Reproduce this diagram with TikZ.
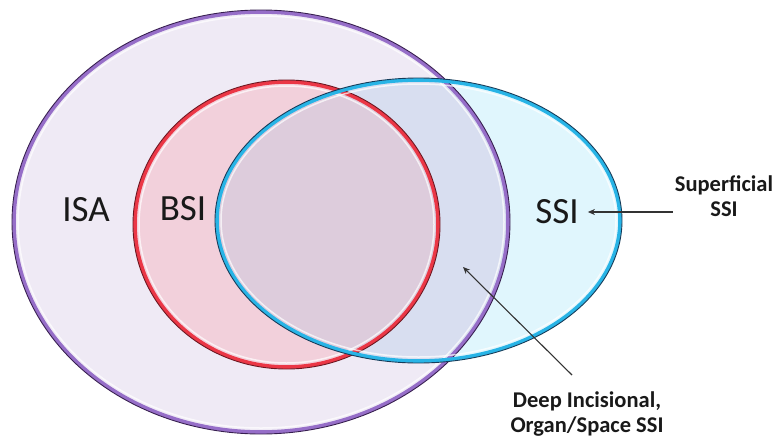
\documentclass[tikz,border=0pt]{standalone}
\usepackage{fontspec}
\setmainfont{Carlito}
\usetikzlibrary{arrows.meta}
\definecolor{cPur}{RGB}{239,234,245}
\definecolor{cBlue}{RGB}{224,246,253}
\definecolor{cBP}{RGB}{216,222,240}
\definecolor{cRed}{RGB}{242,208,219}
\definecolor{cRB}{RGB}{221,204,220}
\definecolor{bPur}{RGB}{150,110,200}
\definecolor{dPur}{RGB}{55,30,80}
\definecolor{bRed}{RGB}{235,55,70}
\definecolor{dRed}{RGB}{110,20,30}
\definecolor{bBlu}{RGB}{40,180,230}
\definecolor{dBlu}{RGB}{20,60,90}
\begin{document}
\begin{tikzpicture}[x=1pt,y=-1pt,
  lab/.style={font=\fontsize{37}{40}\selectfont, inner sep=0pt, text=black!90},
  note/.style={font=\fontsize{22.5}{25.5}\selectfont\bfseries, align=center, inner sep=2pt, text=black!90},
  arr/.style={draw=black!80, line width=1.1pt, -{Stealth[length=7pt,width=6pt]}},
  glow/.style={line width=3.6pt},
  edge/.style={line width=0.9pt}]
\useasboundingbox (0,0) rectangle (775,442);
% region fills
\fill[cPur] (261,222) ellipse [x radius=249, y radius=212];
\fill[cBlue] (418.5,220.5) ellipse [x radius=203.5, y radius=142.5];
\begin{scope}
  \clip (261,222) ellipse [x radius=249, y radius=212];
  \fill[cBP] (418.5,220.5) ellipse [x radius=203.5, y radius=142.5];
\end{scope}
\fill[cRed] (286.5,224.5) ellipse [x radius=153.5, y radius=144.5];
\begin{scope}
  \clip (286.5,224.5) ellipse [x radius=153.5, y radius=144.5];
  \fill[cRB] (418.5,220.5) ellipse [x radius=203.5, y radius=142.5];
\end{scope}
% purple border
\draw[white, line width=1.5pt, opacity=0.7] (261,222) ellipse [x radius=243, y radius=206];
\draw[bPur, glow] (261,222) ellipse [x radius=247, y radius=210];
\draw[dPur, edge] (261,222) ellipse [x radius=249, y radius=212];
% red border
\draw[white, line width=1.5pt, opacity=0.7] (286.5,224.5) ellipse [x radius=147.5, y radius=138.5];
\draw[bRed, glow] (286.5,224.5) ellipse [x radius=151.5, y radius=142.5];
\draw[dRed, edge] (286.5,224.5) ellipse [x radius=153.5, y radius=144.5];
% blue border
\draw[white, line width=1.5pt, opacity=0.7] (418.5,220.5) ellipse [x radius=197.5, y radius=136.5];
\draw[bBlu, glow] (418.5,220.5) ellipse [x radius=201.5, y radius=140.5];
\draw[dBlu, edge] (418.5,220.5) ellipse [x radius=203.5, y radius=142.5];
% labels
\node[lab] (isa) at (86,210) {ISA};
\node[lab] (bsi) at (183,209) {BSI};
\node[lab] (ssi) at (557,212) {SSI};
\node[note] (sup) at (724,196) {Superficial\\SSI};
\node[note] (deep) at (587,414) {Deep Incisional,\\Organ/Space SSI};
% connectors
\coordinate (ssitip) at ([xshift=9pt]ssi.east);
\draw[arr] (sup.west |- ssitip) -- (ssitip);
\coordinate (dtail) at (572,375);
\coordinate (dhead) at (463,267);
\draw[arr] (dtail) -- (dhead);
\end{tikzpicture}
\end{document}
